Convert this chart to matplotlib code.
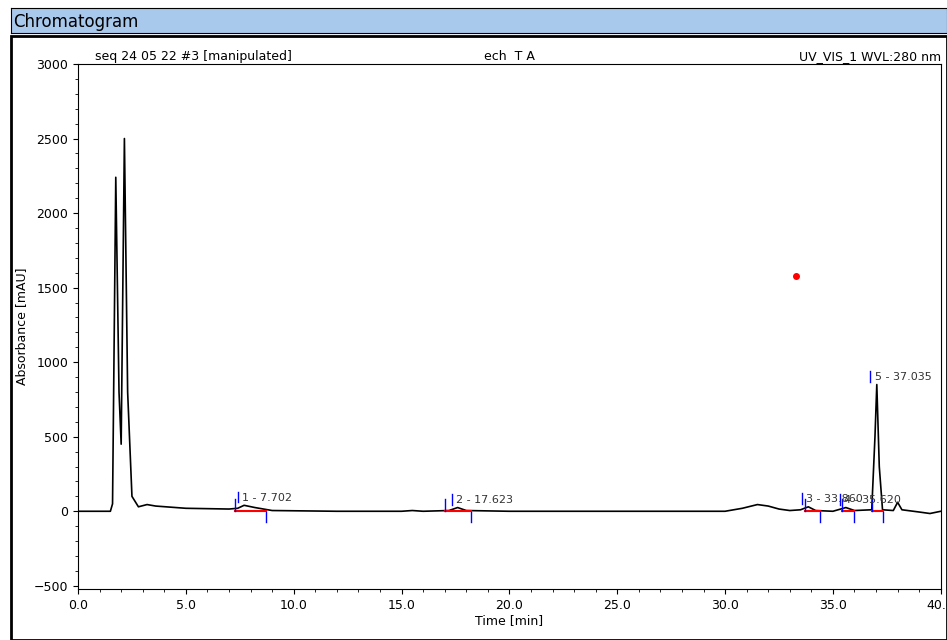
import numpy as np
import matplotlib.pyplot as plt

# trace (time in min, absorbance in mAU)
t = [0, 1.5, 1.6, 1.75, 1.9, 2.0, 2.15, 2.3, 2.5, 2.8, 3.2, 3.6, 5, 7.0, 7.4, 7.7, 8.2, 9, 12, 15,
     15.5, 16, 17.2, 17.6, 18, 20, 25, 30, 30.8, 31.5, 32, 32.5, 33, 33.5, 33.86, 34.2, 35, 35.6,
     36, 36.8, 36.95, 37.035, 37.15, 37.3, 37.8, 38.0, 38.2, 39, 39.5, 40]
a = [0, 0, 50, 2240, 800, 450, 2500, 800, 100, 30, 45, 35, 20, 15, 20, 40, 25, 5, 0, 0,
     5, 0, 5, 25, 5, 0, 0, 0, 20, 45, 35, 15, 5, 10, 30, 5, 0, 25,
     5, 10, 500, 850, 300, 10, 5, 60, 10, -5, -15, 0]

peak_labels = ["1 - 7.702", "2 - 17.623", "3 - 33.860", "4 - 35.620", "5 - 37.035"]
peak_rt = [7.702, 17.623, 33.860, 35.620, 37.035]
peak_start = [7.3, 17.0, 33.7, 35.4, 36.8]
peak_end = [8.7, 18.2, 34.4, 36.0, 37.3]
peak_top = [40, 25, 30, 25, 850]

fig = plt.figure(figsize=(9.47, 6.40), dpi=100)
# header band
hdr = fig.add_axes([0.012, 0.948, 0.988, 0.04])
hdr.set_facecolor('#a8c8ec')
hdr.set_xticks([]); hdr.set_yticks([])
for s in hdr.spines.values():
    s.set_color('black')
hdr.text(0.002, 0.45, "Chromatogram", va='center', ha='left', fontsize=12, family='Liberation Sans Narrow')
fig.patches.append(plt.Rectangle((0.012, 0.0), 0.988, 0.944, transform=fig.transFigure,
                                 fill=False, edgecolor='black', lw=2))

ax = fig.add_axes([0.0824, 0.08, 0.911, 0.82])
ax.plot(t, a, color='black', lw=1.2)
for lab, rt, s, e, h in zip(peak_labels, peak_rt, peak_start, peak_end, peak_top):
    ax.plot([s, e], [0, 0], color='red', lw=1.5)
    ax.plot([s, s], [5, 80], color='blue', lw=1)
    ax.plot([e, e], [-70, -5], color='blue', lw=1)
    ax.plot([rt - 0.3, rt - 0.3], [h + 20, h + 90], color='blue', lw=1)
    ax.text(rt - 0.1, h + 50, lab, fontsize=8, color='#333333', va='center')

ax.set_xlim(0, 40)
ax.set_ylim(-520, 3000)
ax.set_xticks(np.arange(0, 41, 5))
ax.set_xticklabels([f"{v:.1f}" for v in np.arange(0, 41, 5)])
ax.set_yticks(np.arange(-500, 3001, 500))
ax.set_xticks(np.arange(0, 40.1, 1), minor=True)
ax.set_yticks(np.arange(-500, 3001, 100), minor=True)
ax.tick_params(labelsize=9)
ax.set_xlabel("Time [min]", fontsize=9, labelpad=2)
ax.set_ylabel("Absorbance [mAU]", fontsize=9)
ax.plot([33.3], [1580], 'o', color='red', ms=4)
ax.set_title("seq 24 05 22 #3 [manipulated]", loc='left', fontsize=9, pad=3, x=0.02)
ax.set_title("ech  T A", loc='center', fontsize=9, pad=3)
ax.set_title("UV_VIS_1 WVL:280 nm", loc='right', fontsize=9, pad=3)
fig.savefig("out.png")
